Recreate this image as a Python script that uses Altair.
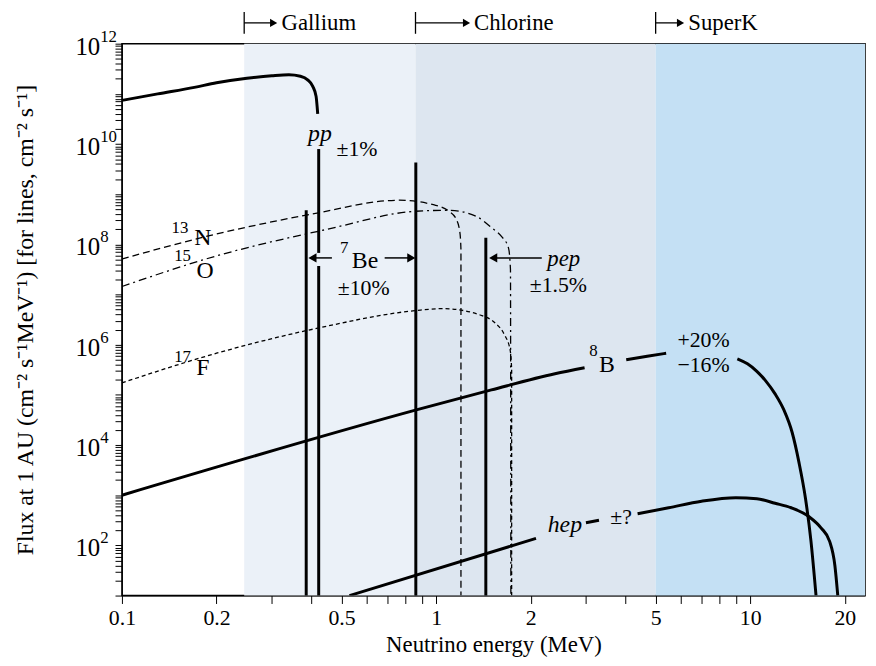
import altair as alt
import pandas as pd

FONT = "Liberation Serif"

# continuous spectra: energy (MeV), log10 flux, segment id (gaps where labels sit)
pp_E = [0.1, 0.13, 0.17, 0.2, 0.25, 0.3, 0.34, 0.37, 0.39, 0.405, 0.415, 0.42]
pp_L = [10.87, 11.0, 11.13, 11.22, 11.31, 11.36, 11.38, 11.35, 11.28, 11.15, 10.95, 10.6]

b8_E = [0.1, 0.877, 1.5, 2.39, 2.97, 4.03, 4.7, 5.4, 9.1, 9.8, 10.5, 11.2, 12.0, 12.8,
        13.6, 14.3, 15.0, 15.6, 16.2]
b8_L = [3.0, 4.71, 5.1, 5.42, 5.54, 5.70, 5.77, 5.83, 5.72, 5.62, 5.47, 5.28, 5.02, 4.7,
        4.25, 3.65, 2.93, 2.1, 1.0]
b8_S = [0, 0, 0, 0, 0, 1, 1, 1, 2, 2, 2, 2, 2, 2, 2, 2, 2, 2, 2]

hep_E = [0.53, 2.08, 3.0, 3.3, 4.38, 5.5, 7.0, 9.0, 10.5, 12.0, 13.5, 15.4, 16.8, 17.9,
         18.6, 19.0]
hep_L = [1.0, 2.14, 2.45, 2.5, 2.63, 2.75, 2.88, 2.95, 2.93, 2.84, 2.75, 2.57, 2.35, 2.08,
         1.6, 1.0]
hep_S = [0, 0, 1, 1, 2, 2, 2, 2, 2, 2, 2, 2, 2, 2, 2, 2]

n13_E = [0.1, 0.198, 0.4, 0.763, 0.98, 1.1, 1.16, 1.19, 1.2, 1.2]
n13_L = [7.71, 8.2, 8.6, 8.88, 8.79, 8.66, 8.5, 8.25, 7.9, 1.0]

o15_E = [0.1, 0.2, 0.45, 0.86, 1.1, 1.35, 1.51, 1.62, 1.7, 1.725, 1.73]
o15_L = [7.16, 7.77, 8.3, 8.66, 8.68, 8.55, 8.32, 8.15, 7.93, 7.5, 1.0]

f17_E = [0.1, 0.2, 0.42, 0.86, 1.05, 1.4, 1.55, 1.65, 1.72, 1.74, 1.74]
f17_L = [5.24, 5.83, 6.33, 6.68, 6.72, 6.58, 6.42, 6.2, 5.9, 5.5, 1.0]

# line sources: energy, top log10 flux, bottom log10 flux
line_E = [0.386, 0.423, 0.423, 0.862, 1.44]
line_top = [8.68, 9.9, 7.57, 9.63, 8.13]
line_bot = [1.0, 7.83, 1.0, 1.0, 1.0]

# detector bands
band_start = [0.245, 0.86, 5.0]
band_end = [0.86, 5.0, 23.2]
band_color = ["#ebf1f8", "#dde6f0", "#c4e0f4"]
det_names = ["Gallium", "Chlorine", "SuperK"]
det_arrow_end = [0.304, 1.25, 6.0]
det_text_E = [0.322, 1.32, 6.35]

# y tick labels: exponents of ten
y_exp = [2, 4, 6, 8, 10, 12]

# labels: energy, log10 flux, text, size, italic
lab_E = [0.427, 0.56, 0.153, 0.181, 0.156, 0.184, 0.156, 0.181, 0.51, 0.594, 0.588,
         2.55, 2.45, 3.17, 3.5, 7.1, 7.1, 2.57, 3.88]
lab_L = [10.2, 9.9, 8.32, 8.13, 7.77, 7.47, 5.75, 5.54, 7.93, 7.67, 7.12,
         7.71, 7.18, 5.87, 5.6, 6.09, 5.6, 2.4, 2.57]
lab_T = ["pp", "±1%", "13", "N", "15", "O", "17", "F", "7", "Be", "±10%",
         "pep", "±1.5%", "8", "B", "+20%", "−16%", "hep", "±?"]
lab_S = [24, 22, 17, 24, 17, 24, 17, 24, 17, 24, 22, 23, 22, 17, 24, 22, 22, 24, 22]
lab_I = [1, 0, 0, 0, 0, 0, 0, 0, 0, 0, 0, 1, 0, 0, 0, 0, 0, 1, 0]

# arrows next to labels: shaft start, head position, log10 flux
arr_from = [0.466, 0.686, 2.17]
arr_to = [0.404, 0.834, 1.52]
arr_L = [7.73, 7.73, 7.73]

W, H = 750, 557
xs = alt.Scale(type="log", domain=[0.1, 23.2], nice=False)
ys = alt.Scale(type="log", domain=[10, 1e12], nice=False)


def curve(E, L, S=None):
    S = S or [0] * len(E)
    return pd.DataFrame({"E": E, "F": [10 ** v for v in L], "seg": S, "i": range(len(E))})


x_ticks = [m * 10 ** k for k in (-1, 0, 1) for m in range(1, 10) if m * 10 ** k <= 23]
y_ticks = [m * 10 ** k for k in range(1, 12) for m in range(1, 10)] + [1e12]
x_expr = "indexof([0.1,0.2,0.5,1,2,5,10,20], round(datum.value*10)/10) >= 0 ? datum.label : ''"

bands = pd.DataFrame({"a": band_start, "b": band_end, "c": band_color})
base_band = alt.Chart(bands).mark_rect().encode(
    x=alt.X("a:Q", scale=xs, axis=alt.Axis(
        values=x_ticks, labelExpr=x_expr, title="Neutrino energy (MeV)", grid=False,
        tickColor="black", domainColor="black", tickSize=8, labelPadding=4,
        titlePadding=5)),
    x2="b:Q",
    y=alt.value(0), y2=alt.value(H),
    color=alt.Color("c:N", scale=None),
)

yaxis = alt.Axis(values=y_ticks, labelExpr="''", grid=False, tickColor="black",
                 domainColor="black", tickSize=7,
                 title="Flux at 1 AU (cm⁻² s⁻¹MeV⁻¹) [for lines, cm⁻² s⁻¹]",
                 titlePadding=76, titleFontSize=24)


def line_layer(df, width, dash=None):
    kw = {"strokeDash": dash} if dash else {}
    return alt.Chart(df).mark_line(color="black", strokeWidth=width, clip=True,
                                   interpolate="monotone", **kw).encode(
        x=alt.X("E:Q", scale=xs), y=alt.Y("F:Q", scale=ys, axis=yaxis),
        detail="seg:N", order="i:Q")


layers = [base_band]
layers.append(line_layer(curve(n13_E, n13_L), 1.3, [7, 4]))
layers.append(line_layer(curve(o15_E, o15_L), 1.3, [8, 4, 2, 4]))
layers.append(line_layer(curve(f17_E, f17_L), 1.3, [4, 3]))
layers.append(line_layer(curve(pp_E, pp_L), 3))
layers.append(line_layer(curve(b8_E, b8_L, b8_S), 3))
layers.append(line_layer(curve(hep_E, hep_L, hep_S), 3))

lines = pd.DataFrame({"E": line_E, "t": [10 ** v for v in line_top],
                      "b": [10 ** v for v in line_bot]})
layers.append(alt.Chart(lines).mark_rule(color="black", strokeWidth=3).encode(
    x=alt.X("E:Q", scale=xs), y=alt.Y("t:Q", scale=ys), y2="b:Q"))

arrows = pd.DataFrame({"a": arr_from, "b": arr_to, "F": [10 ** v for v in arr_L],
                       "shape": ["triangle-left" if t < f else "triangle-right"
                                 for f, t in zip(arr_from, arr_to)]})
layers.append(alt.Chart(arrows).mark_rule(color="black", strokeWidth=1.5).encode(
    x=alt.X("a:Q", scale=xs), x2="b:Q", y=alt.Y("F:Q", scale=ys)))
layers.append(alt.Chart(arrows).mark_point(color="black", filled=True, size=90, opacity=1).encode(
    x=alt.X("b:Q", scale=xs), y=alt.Y("F:Q", scale=ys),
    shape=alt.Shape("shape:N", scale=None)))

labels = pd.DataFrame({"E": lab_E, "F": [10 ** v for v in lab_L], "t": lab_T,
                       "s": lab_S, "st": ["italic" if i else "normal" for i in lab_I]})
for st in ("normal", "italic"):
    layers.append(alt.Chart(labels[labels.st == st]).mark_text(
        font=FONT, fontStyle=st, color="black", align="center", baseline="middle").encode(
        x=alt.X("E:Q", scale=xs), y=alt.Y("F:Q", scale=ys), text="t:N",
        size=alt.Size("s:Q", scale=None)))

# y tick labels as "10" plus a raised exponent
ylab = pd.DataFrame({"F": [10.0 ** k for k in y_exp], "ten": ["10"] * len(y_exp),
                     "e": [str(k) for k in y_exp]})
layers.append(alt.Chart(ylab).mark_text(font=FONT, fontSize=25, align="right",
                                        baseline="middle", color="black", dy=3).encode(
    x=alt.value(-22), y=alt.Y("F:Q", scale=ys), text="ten:N"))
layers.append(alt.Chart(ylab).mark_text(font=FONT, fontSize=17, align="left",
                                        baseline="middle", color="black", dy=-7).encode(
    x=alt.value(-22), y=alt.Y("F:Q", scale=ys), text="e:N"))

det = pd.DataFrame({"a": band_start, "b": det_arrow_end, "tx": det_text_E, "n": det_names})
layers.append(alt.Chart(det).mark_rule(color="black", strokeWidth=1.3).encode(
    x=alt.X("a:Q", scale=xs), y=alt.value(-32), y2=alt.value(-10)))
layers.append(alt.Chart(det).mark_rule(color="black", strokeWidth=1.3).encode(
    x=alt.X("a:Q", scale=xs), x2="b:Q", y=alt.value(-21)))
layers.append(alt.Chart(det).mark_point(shape="triangle-right", color="black", filled=True,
                                        size=70, opacity=1).encode(
    x=alt.X("b:Q", scale=xs), y=alt.value(-21)))
layers.append(alt.Chart(det).mark_text(font=FONT, fontSize=23, align="left",
                                       baseline="middle", color="black").encode(
    x=alt.X("tx:Q", scale=xs), y=alt.value(-21), text="n:N"))

chart = alt.layer(*layers).properties(
    width=W, height=H, autosize=alt.AutoSizeParams(type="none"),
    padding={"left": 115, "top": 33, "right": 3, "bottom": 60},
).configure_view(
    stroke="black", strokeWidth=1.5
).configure_axis(
    labelFont=FONT, titleFont=FONT, labelFontSize=22, titleFontSize=23,
    labelColor="black", titleColor="black", titleFontWeight="normal", labelFlush=False
)

chart.save("out.html", embed_options={"renderer": "svg", "actions": False})
